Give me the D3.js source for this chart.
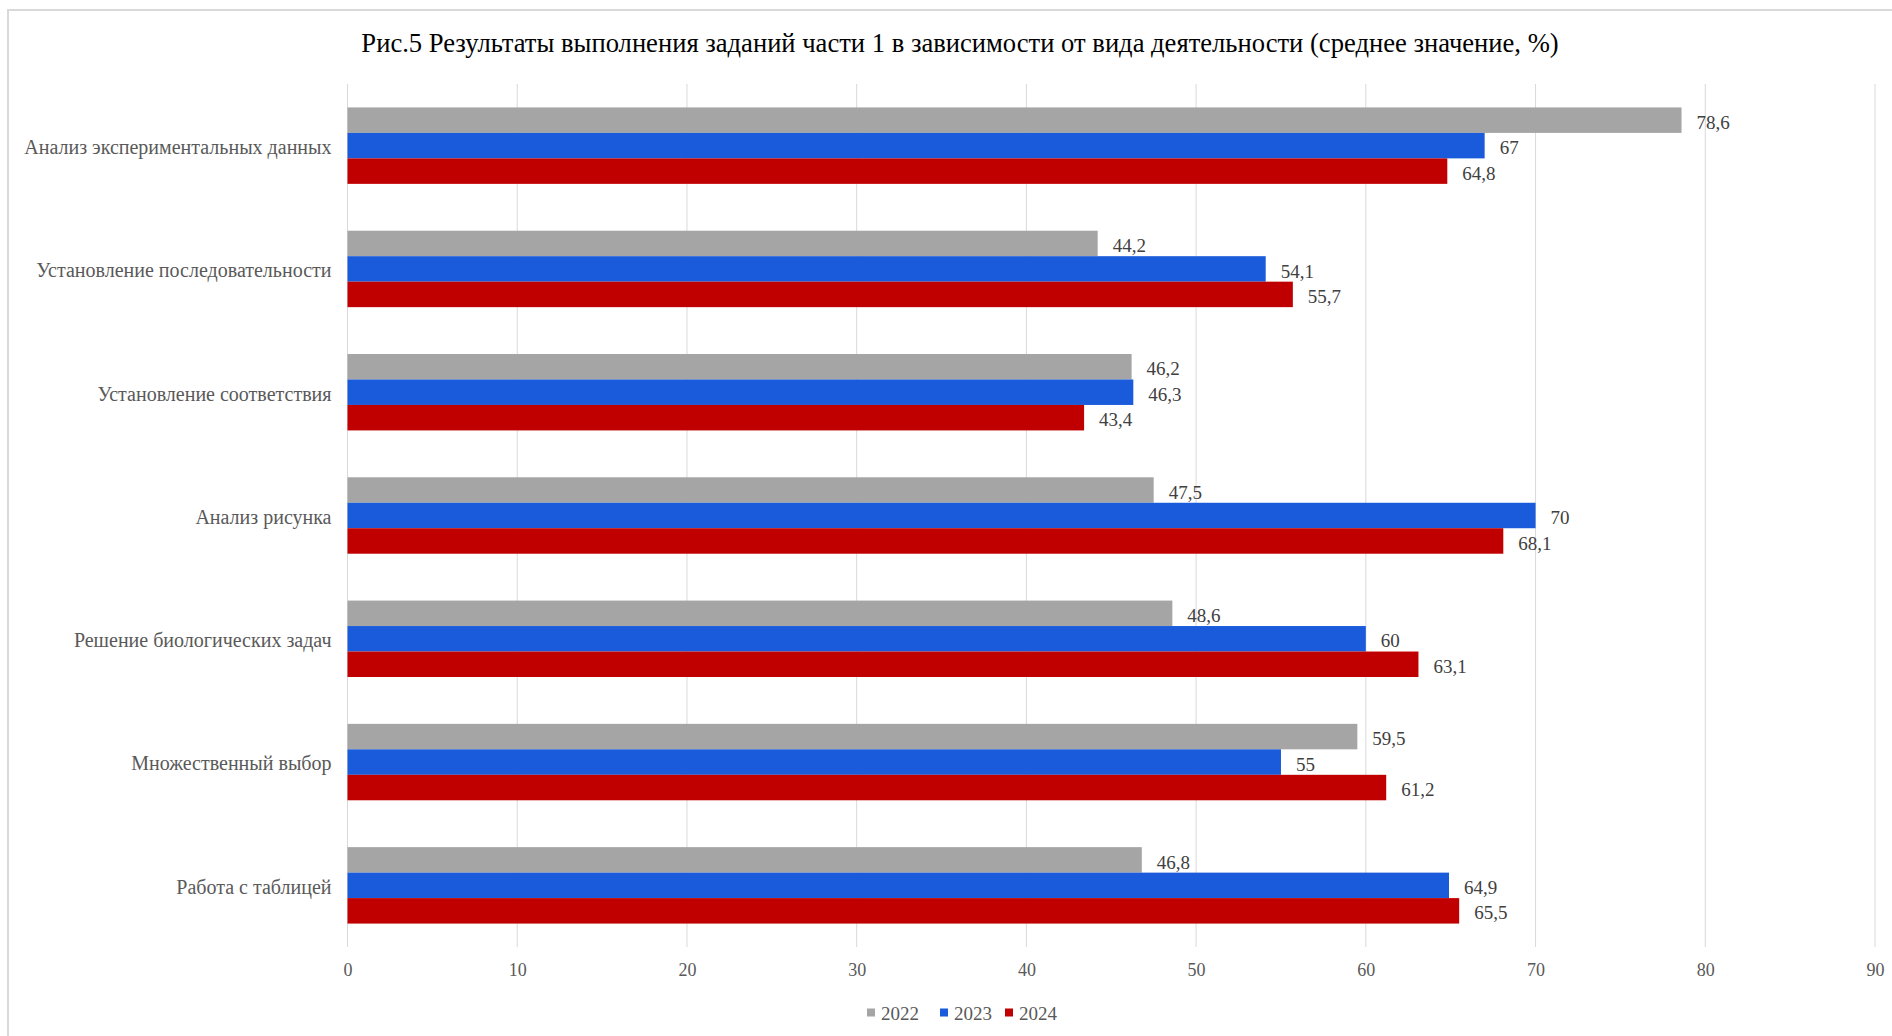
<!DOCTYPE html>
<html>
<head>
<meta charset="utf-8">
<script src="https://cdn.jsdelivr.net/npm/d3@7"></script>
<style>
  html, body { margin: 0; padding: 0; background: #fff; }
  svg { display: block; }
  text { font-family: "Liberation Serif", "Times New Roman", serif; }
</style>
</head>
<body>
<svg id="chart" width="1892" height="1036"></svg>
<script>
// Activity types (top to bottom)
const categories = [
  "Анализ экспериментальных данных",
  "Установление последовательности",
  "Установление соответствия",
  "Анализ рисунка",
  "Решение биологических задач",
  "Множественный выбор",
  "Работа с таблицей"
];
const years = ["2022", "2023", "2024"];
const values2022 = [78.6, 44.2, 46.2, 47.5, 48.6, 59.5, 46.8];
const values2023 = [67, 54.1, 46.3, 70, 60, 55, 64.9];
const values2024 = [64.8, 55.7, 43.4, 68.1, 63.1, 61.2, 65.5];
const xTicks = [0, 10, 20, 30, 40, 50, 60, 70, 80, 90];
const title = "Рис.5 Результаты выполнения заданий части 1 в зависимости от вида деятельности (среднее значение, %)";

const seriesValues = [values2022, values2023, values2024];
const colors = ["#A5A5A5", "#1A5BDB", "#C00000"];

const rows = categories.map((c, i) => ({
  category: c,
  values: years.map((y, k) => ({ year: y, value: seriesValues[k][i] }))
}));

const svg = d3.select("#chart");
const W = 1892, H = 1036;
const plot = { left: 347.5, right: 1875, top: 84, bottom: 947 };

// Chart frame
svg.append("rect")
  .attr("x", 8).attr("y", 10)
  .attr("width", W + 20).attr("height", H + 20)
  .attr("fill", "none").attr("stroke", "#D9D9D9").attr("stroke-width", 2);

// Title
svg.append("text")
  .attr("x", 960).attr("y", 52)
  .attr("text-anchor", "middle")
  .attr("font-size", 26.6)
  .attr("fill", "#000")
  .text(title);

const x = d3.scaleLinear().domain([0, 90]).range([plot.left, plot.right]);
const y0 = d3.scaleBand().domain(categories).range([plot.top, plot.bottom]).paddingInner(0.38).paddingOuter(0.19);
const y1 = d3.scaleBand().domain(years).range([0, y0.bandwidth()]);
const colorScale = d3.scaleOrdinal().domain(years).range(colors);

// Vertical gridlines
svg.append("g")
  .selectAll("line")
  .data(xTicks)
  .join("line")
  .attr("x1", d => x(d)).attr("x2", d => x(d))
  .attr("y1", plot.top).attr("y2", plot.bottom)
  .attr("stroke", "#D9D9D9").attr("stroke-width", 1);

// X axis tick labels
const xAxis = d3.axisBottom(x).tickValues(xTicks).tickSize(0).tickPadding(0).tickFormat(d3.format("d"));
const gx = svg.append("g").attr("transform", `translate(0,${plot.bottom + 16})`).call(xAxis);
gx.select(".domain").remove();
gx.selectAll("text")
  .attr("font-size", 18).attr("fill", "#595959");

// Category labels
const yAxis = d3.axisLeft(y0).tickSize(0).tickPadding(0);
const gy = svg.append("g").attr("transform", `translate(${plot.left - 16},2)`).call(yAxis);
gy.select(".domain").remove();
gy.selectAll("text")
  .attr("font-size", 20).attr("fill", "#595959");

const fmt = v => String(v).replace(".", ",");

// Bars and value labels
const groups = svg.append("g")
  .selectAll("g")
  .data(rows)
  .join("g")
  .attr("transform", d => `translate(0,${y0(d.category)})`);

groups.selectAll("rect")
  .data(d => d.values)
  .join("rect")
  .attr("x", x(0))
  .attr("y", d => y1(d.year))
  .attr("width", d => x(d.value) - x(0))
  .attr("height", y1.bandwidth())
  .attr("fill", d => colorScale(d.year));

groups.selectAll("text")
  .data(d => d.values)
  .join("text")
  .attr("x", d => x(d.value) + 15)
  .attr("y", d => y1(d.year) + y1.bandwidth() / 2 + 2)
  .attr("dy", "0.35em")
  .attr("font-size", 19)
  .attr("fill", "#404040")
  .text(d => fmt(d.value));

// Legend
const legendX = [867, 940, 1005];
const legend = svg.append("g").attr("transform", "translate(0,1013)");
const items = legend.selectAll("g").data(years).join("g")
  .attr("transform", (d, i) => `translate(${legendX[i]},0)`);
items.append("rect")
  .attr("x", 0).attr("y", -4.5).attr("width", 8).attr("height", 8)
  .attr("fill", d => colorScale(d));
items.append("text")
  .attr("x", 14).attr("y", 0).attr("dy", "0.35em")
  .attr("font-size", 19).attr("fill", "#595959")
  .text(d => d);
</script>
</body>
</html>
